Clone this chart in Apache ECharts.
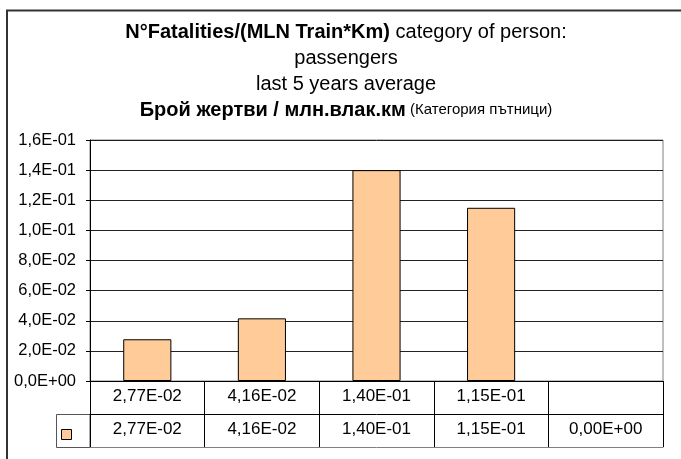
<!DOCTYPE html>
<html style="height: 100%">

<head>
  <meta charset="utf-8">
  <title>Fatalities per MLN Train*Km</title>
</head>

<body style="height: 100%; margin: 0">
  <div id="container" style="width: 681px; height: 459px"></div>
  <script type="text/javascript" src="https://cdn.jsdelivr.net/npm/echarts@6/dist/echarts.min.js"></script>
  <script type="text/javascript">
    // category labels (first row of the data table)
    var categories = ['2,77E-02', '4,16E-02', '1,40E-01', '1,15E-01', ''];
    // values of the series (second row of the data table)
    var values = [0.0277, 0.0416, 0.140, 0.115, 0];
    var seriesName = 'passengers';

    var font = 'Liberation Sans, Arial, sans-serif';

    // 0.14 -> "1,40E-01"
    function sci(v, d) {
      var s = v.toExponential(d).split('e');
      var e = parseInt(s[1], 10);
      var a = Math.abs(e);
      return s[0].replace('.', ',') + 'E' + (e < 0 ? '-' : '+') + (a < 10 ? '0' + a : a);
    }

    var valueLabels = values.map(function (v) { return sci(v, 2); });
    // an empty bar should not leave a border line on the axis
    var barData = values.map(function (v) {
      return v === 0 ? { value: v, itemStyle: { borderWidth: 0 } } : v;
    });

    var dom = document.getElementById("container");
    var myChart = echarts.init(dom);
    var option = {
      animation: false,
      backgroundColor: '#fff',
      textStyle: { fontFamily: font },
      title: {
        left: 346,
        textAlign: 'center',
        top: 19,
        padding: 0,
        text: '{b|N°Fatalities/(MLN Train*Km)}{n| category of person:}\n{n|passengers}\n{n|last 5 years average}\n{b|Брой жертви / млн.влак.км}{s| (Категория пътници)}',
        textStyle: {
          fontWeight: 'normal',
          rich: {
            b: { fontFamily: font, fontSize: 20, fontWeight: 'bold', color: '#000', lineHeight: 26 },
            n: { fontFamily: font, fontSize: 20, fontWeight: 'normal', color: '#000', lineHeight: 26 },
            s: { fontFamily: font, fontSize: 15, fontWeight: 'normal', color: '#000', lineHeight: 26 }
          }
        }
      },
      legend: {
        left: 61,
        top: 429,
        padding: 0,
        icon: 'rect',
        itemWidth: 10,
        itemHeight: 10,
        itemGap: 0,
        formatter: function () { return ''; },
        itemStyle: { borderColor: '#000', borderWidth: 1 },
        data: [seriesName]
      },
      grid: {
        left: 90,
        right: 18,
        top: 140,
        bottom: 78,
        show: true,
        borderColor: '#808080',
        borderWidth: 1
      },
      xAxis: [{
        type: 'category',
        data: categories,
        axisLine: { lineStyle: { color: '#000', width: 1 } },
        axisTick: { show: true, interval: 0, length: 66, lineStyle: { color: '#000' } },
        axisLabel: { interval: 0, margin: 7, fontSize: 17, color: '#000', fontFamily: font }
      }, {
        type: 'category',
        position: 'bottom',
        offset: 33,
        data: valueLabels,
        axisLine: { show: true, lineStyle: { color: '#000', width: 1 } },
        axisTick: { show: false },
        axisLabel: { interval: 0, margin: 7, fontSize: 17, color: '#000', fontFamily: font }
      }, {
        type: 'category',
        position: 'bottom',
        offset: 66,
        data: valueLabels,
        axisLine: { show: true, lineStyle: { color: '#808080', width: 1 } },
        axisTick: { show: false },
        axisLabel: { show: false }
      }],
      yAxis: {
        type: 'value',
        min: 0,
        max: 0.16,
        interval: 0.02,
        axisLine: { show: true, lineStyle: { color: '#000' } },
        axisTick: { show: true, length: 4, lineStyle: { color: '#000' } },
        splitLine: { lineStyle: { color: '#222', width: 1 } },
        axisLabel: {
          margin: 14,
          fontSize: 16.5,
          color: '#000',
          fontFamily: font,
          formatter: function (v) { return sci(v, 1); }
        }
      },
      graphic: [{
        type: 'rect',
        shape: { x: 7, y: 10.5, width: 720, height: 500 },
        style: { fill: null, stroke: '#333', lineWidth: 2 },
        silent: true
      }, {
        type: 'rect',
        shape: { x: 56.5, y: 414.5, width: 33.5, height: 33 },
        style: { fill: null, stroke: '#555', lineWidth: 1 },
        silent: true
      }],
      series: [{
        name: seriesName,
        type: 'bar',
        barWidth: '42%',
        itemStyle: { color: '#FFCC99', borderColor: '#000', borderWidth: 1 },
        data: barData
      }]
    };
    if (option && typeof option === "object") {
      myChart.setOption(option, true);
    }
  </script>
</body>

</html>
